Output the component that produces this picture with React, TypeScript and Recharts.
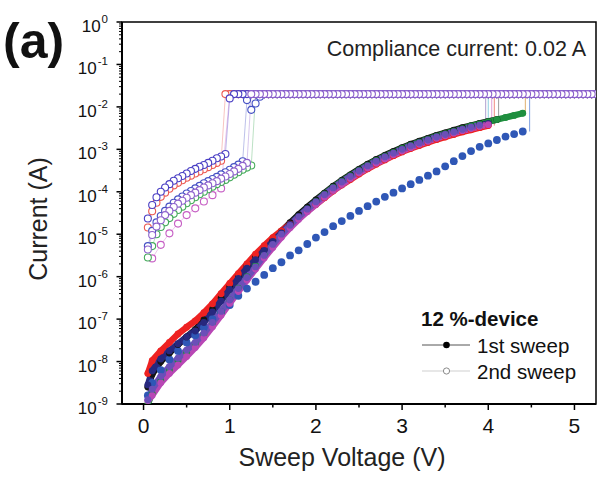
import React from 'react';
import { ComposedChart, Line, XAxis, YAxis, ReferenceArea, Legend } from 'recharts';

// ---------- data ----------
const COMPLIANCE = 0.02; // A

// 1st sweep voltage grid (V)
const sweep1V = [0.05, 0.1, 0.2, 0.3, 0.4, 0.5, 0.6, 0.7, 0.8, 0.9, 1.0, 1.1, 1.2, 1.3, 1.4, 1.5, 1.6, 1.7, 1.8, 1.9, 2.0, 2.1, 2.2, 2.3, 2.4, 2.5, 2.6, 2.7, 2.8, 2.9, 3.0, 3.1, 3.2, 3.3, 3.4, 3.5, 3.6, 3.7, 3.8, 3.9, 4.0, 4.1, 4.2, 4.3, 4.4];

// 1st sweep currents, log10(I / A)
const black1stLog = [-8.6, -8.3, -8.0, -7.8, -7.6, -7.42, -7.25, -7.02, -6.77, -6.5, -6.24, -5.98, -5.74, -5.52, -5.36, -5.14, -4.93, -4.73, -4.54, -4.36, -4.19, -4.03, -3.87, -3.73, -3.6, -3.47, -3.35, -3.24, -3.14, -3.05, -2.96, -2.88, -2.81, -2.74, -2.67, -2.61, -2.55, -2.49, -2.44, -2.39, -2.34, -2.3];
const red1stLog = [-8.28, -7.98, -7.75, -7.55, -7.35, -7.19, -7.04, -6.85, -6.64, -6.4, -6.16, -5.93, -5.7, -5.47, -5.27, -5.08, -4.92, -4.76, -4.6, -4.45, -4.3, -4.14, -3.98, -3.84, -3.71, -3.58, -3.46, -3.35, -3.25, -3.15, -3.06, -2.98, -2.91, -2.84, -2.77, -2.71, -2.65, -2.59, -2.54, -2.49, -2.44];
const green1stLog = [-9.0, -8.75, -8.45, -8.2, -7.98, -7.78, -7.58, -7.36, -7.1, -6.83, -6.55, -6.27, -6.0, -5.74, -5.48, -5.23, -5.0, -4.78, -4.58, -4.4, -4.22, -4.05, -3.89, -3.75, -3.62, -3.49, -3.37, -3.26, -3.16, -3.07, -2.98, -2.9, -2.83, -2.76, -2.69, -2.63, -2.57, -2.51, -2.45, -2.4, -2.35, -2.3, -2.25, -2.2, -2.15];
const navy1stLog = [-8.55, -8.22, -7.94, -7.75, -7.58, -7.42, -7.28, -7.08, -6.83, -6.57, -6.3, -6.04, -5.8, -5.6, -5.38, -5.17, -4.97, -4.77, -4.58, -4.4, -4.23, -4.07, -3.91, -3.77, -3.64, -3.51, -3.39, -3.28, -3.18, -3.09, -3.0, -2.92, -2.85, -2.78, -2.71, -2.65, -2.59, -2.53, -2.48, -2.43, -2.39];
const magenta1stLog = [-8.92, -8.8, -8.5, -8.28, -8.08, -7.88, -7.67, -7.44, -7.18, -6.91, -6.63, -6.35, -6.08, -5.82, -5.56, -5.31, -5.07, -4.85, -4.65, -4.47, -4.3, -4.13, -3.97, -3.83, -3.69, -3.56, -3.44, -3.33, -3.23, -3.13, -3.04, -2.96, -2.88, -2.81, -2.74, -2.68, -2.62, -2.56, -2.51, -2.46, -2.42];
const purple1stLog = [-8.9, -8.65, -8.35, -8.12, -7.92, -7.73, -7.55, -7.33, -7.08, -6.82, -6.55, -6.28, -6.02, -5.77, -5.5, -5.24, -5.0, -4.79, -4.59, -4.41, -4.24, -4.07, -3.91, -3.77, -3.64, -3.51, -3.39, -3.28, -3.18, -3.09, -3.0, -2.92, -2.85, -2.78, -2.71, -2.65, -2.59, -2.53, -2.48, -2.43];
const blue1stLog = [-8.8, -8.5, -8.2, -7.95, -7.75, -7.55, -7.38, -7.2, -7.0, -6.83, -6.67, -6.45, -6.28, -6.12, -5.96, -5.8, -5.66, -5.5, -5.38, -5.23, -5.08, -4.95, -4.81, -4.69, -4.57, -4.45, -4.34, -4.23, -4.12, -4.02, -3.92, -3.82, -3.72, -3.62, -3.52, -3.4, -3.28, -3.16, -3.04, -2.94, -2.86, -2.78, -2.7, -2.64, -2.58];

// voltage where each 1st sweep jumps to the compliance current
const setV1st = { black: 4.12, red: 4.07, green: 4.43, navy: 4.0, magenta: 4.04, purple: 3.97, blue: 4.48 };

// 2nd sweep voltage grids (V)
const sweep2V = [0.05, 0.1, 0.15, 0.2, 0.25, 0.3, 0.35, 0.4, 0.45, 0.5, 0.55, 0.6, 0.65, 0.7, 0.75, 0.8, 0.85, 0.9, 0.95, 1.0, 1.05, 1.1, 1.15, 1.2, 1.25, 1.3, 1.35, 1.4, 1.45, 1.5, 1.55, 1.6, 1.65, 1.7, 1.75, 1.8, 1.85, 1.9, 1.95, 2.0, 2.05, 2.1, 2.15, 2.2, 2.25, 2.3, 2.35, 2.4, 2.45, 2.5, 2.55, 2.6, 2.65, 2.7, 2.75, 2.8, 2.85, 2.9, 2.95, 3.0, 3.05, 3.1, 3.15, 3.2, 3.25, 3.3, 3.35, 3.4, 3.45, 3.5, 3.55, 3.6, 3.65, 3.7, 3.75, 3.8, 3.85, 3.9, 3.95, 4.0, 4.05, 4.1, 4.15, 4.2, 4.25, 4.3, 4.35, 4.4, 4.45, 4.5, 4.55, 4.6, 4.65, 4.7, 4.75, 4.8, 4.85, 4.9, 4.95, 5.0, 5.05, 5.1, 5.15, 5.2, 5.25];
const sweep2MagentaV = [0.1, 0.2, 0.3, 0.4, 0.5, 0.6, 0.7, 0.8, 0.9, 1.0, 1.1, 1.2, 1.3, 1.4, 1.5, 1.6, 1.7, 1.8, 1.9, 2.0, 2.1, 2.2, 2.3, 2.4, 2.5, 2.6, 2.7, 2.8, 2.9, 3.0, 3.1, 3.2, 3.3, 3.4, 3.5, 3.6, 3.7, 3.8, 3.9, 4.0, 4.1, 4.2, 4.3, 4.4, 4.5, 4.6, 4.7, 4.8, 4.9, 5.0, 5.1, 5.2];

// 2nd sweep currents before switching, log10(I / A)
const violetA2ndLog = [-4.63, -4.31, -4.13, -4.0, -3.9, -3.82, -3.74, -3.68, -3.63, -3.57, -3.51, -3.46, -3.41, -3.37, -3.32, -3.27, -3.21, -3.17, -3.11];
const red2ndLog = [-4.84, -4.46, -4.26, -4.12, -4.02, -3.93, -3.85, -3.79, -3.73, -3.67, -3.62, -3.57, -3.52, -3.47, -3.42, -3.37, -3.32, -3.27];
const blue2ndLog = [-5.28, -4.92, -4.72, -4.57, -4.45, -4.35, -4.26, -4.18, -4.11, -4.04, -3.98, -3.92, -3.86, -3.8, -3.75, -3.7, -3.65, -3.59, -3.54, -3.48, -3.42, -3.36, -3.28];
const violetC2ndLog = [-5.36, -5.02, -4.82, -4.67, -4.55, -4.45, -4.36, -4.28, -4.21, -4.14, -4.08, -4.02, -3.96, -3.9, -3.85, -3.8, -3.75, -3.69, -3.64, -3.58, -3.52, -3.46, -3.39, -3.32];
const green2ndLog = [-5.55, -5.28, -5.0, -4.83, -4.72, -4.62, -4.52, -4.43, -4.35, -4.27, -4.2, -4.13, -4.06, -4.0, -3.94, -3.88, -3.82, -3.77, -3.72, -3.66, -3.6, -3.54, -3.48, -3.43, -3.38];
const magenta2ndLog = [-5.57, -5.25, -4.98, -4.75, -4.55, -4.39, -4.23, -4.08, -3.92];
// first points after switching (just under the compliance level), log10(I / A)
const violetA2ndAfterLog = [-1.8];
const blue2ndAfterLog = [-1.84, -2.07, -1.92, -1.76];

// axis ticks
const xTicks = [0, 0.5, 1, 1.5, 2, 2.5, 3, 3.5, 4, 4.5, 5];
const yMajorTicks = [1e-9, 1e-8, 1e-7, 1e-6, 1e-5, 1e-4, 1e-3, 1e-2, 1e-1, 1];
const yMinorFactors = [2, 3, 4, 5, 6, 7, 8, 9];

// ---------- tables built from the arrays ----------
type Pt = { v: number; i: number };
const pts = (vs: number[], logs: number[], start = 0): Pt[] =>
  logs.map((l, k) => ({ v: vs[start + k], i: Math.pow(10, l) }));

const build2nd = (vs: number[], pre: number[], after: number[]): Pt[] => {
  const a = pts(vs, pre);
  const b = pts(vs, after, pre.length);
  const c = vs.slice(pre.length + after.length).map((v) => ({ v, i: COMPLIANCE }));
  return [...a, ...b, ...c].reverse();
};

const jump = (v: number, logs: number[]): Pt[] => [
  { v, i: Math.pow(10, logs[logs.length - 1]) },
  { v, i: COMPLIANCE },
];

const yTicks = [
  ...yMajorTicks,
  ...yMajorTicks.slice(0, 9).flatMap((m) => yMinorFactors.map((f) => f * m)),
].sort((a, b) => a - b);

const FONT = '"Liberation Sans", Arial, Helvetica, sans-serif';

const first = [
  { key: 'blue', logs: blue1stLog, color: '#2f57b6', jc: '#7fa0e0', w: 0, r: 3.9 },
  { key: 'black', logs: black1stLog, color: '#141414', jc: '#9a9a9a', w: 6.4, r: 3.4 },
  { key: 'green', logs: green1stLog, color: '#1f8f3f', jc: '#e0b070', w: 6.4, r: 3.4 },
  { key: 'red', logs: red1stLog, color: '#ee2222', jc: '#f08a80', w: 6.4, r: 3.4 },
  { key: 'navy', logs: navy1stLog, color: '#27287e', jc: '#8fd0e0', w: 6.4, r: 3.4 },
  { key: 'magenta', logs: magenta1stLog, color: '#b847b5', jc: '#e0a0d8', w: 6.4, r: 3.4 },
  { key: 'purple', logs: purple1stLog, color: '#6b4fb8', jc: '#b0a0d0', w: 6.4, r: 3.4 },
] as const;

const second = [
  { key: 'm2', data: build2nd(sweep2MagentaV, magenta2ndLog, []), color: '#c65ec4' },
  { key: 'g2', data: build2nd(sweep2V, green2ndLog, []), color: '#44aa5a' },
  { key: 'r2', data: build2nd(sweep2V, red2ndLog, []), color: '#ec5a52' },
  { key: 'b2', data: build2nd(sweep2V, blue2ndLog, blue2ndAfterLog), color: '#4550c4' },
  { key: 'a2', data: build2nd(sweep2V, violetA2ndLog, violetA2ndAfterLog), color: '#4a3fc4' },
  { key: 'c2', data: build2nd(sweep2V, violetC2ndLog, []), color: '#8e62cc' },
];

// ---------- axis pieces ----------
const XTick = (p: any) => {
  const { x, y, payload } = p;
  const v = payload.value as number;
  const major = Math.abs(v - Math.round(v)) < 1e-6;
  return (
    <g>
      <line x1={x} x2={x} y1={y} y2={y + (major ? 6 : 3.5)} stroke="#000" strokeWidth={1.5} />
      {major && (
        <text x={x} y={y + 29} textAnchor="middle" fontSize={21} fontFamily={FONT} fill="#111">
          {Math.round(v)}
        </text>
      )}
    </g>
  );
};

const YTick = (p: any) => {
  const { x, y, payload } = p;
  const v = payload.value as number;
  const lg = Math.log10(v);
  const major = Math.abs(lg - Math.round(lg)) < 1e-6;
  if (!major) return <line x1={x - 3} x2={x} y1={y} y2={y} stroke="#000" strokeWidth={1} />;
  return (
    <g>
      <line x1={x - 5.5} x2={x} y1={y} y2={y} stroke="#000" strokeWidth={1.5} />
      <text x={x - 14} y={y + 10} textAnchor="end" fontSize={17} fontFamily={FONT} fill="#111">
        <tspan>10</tspan>
        <tspan dx={1} dy={-9} fontSize={11.5}>{String(Math.round(lg))}</tspan>
      </text>
    </g>
  );
};

const XTitle = () => (
  <text x={342} y={466} textAnchor="middle" fontSize={25} fontFamily={FONT} fill="#222">
    Sweep Voltage (V)
  </text>
);

const YTitle = () => (
  <text x={47} y={219} transform="rotate(-90 47 219)" textAnchor="middle" fontSize={25} fontFamily={FONT} fill="#222">
    Current (A)
  </text>
);

const LegendBox = () => {
  const ox = 410;
  const oy = 298;
  return (
    <svg width={190} height={95} style={{ overflow: 'visible' }}>
      <g transform={`translate(${-ox},${-oy})`} fontFamily={FONT}>
        <text x={421} y={326} fontSize={20.5} fontWeight="bold" fill="#111">12 %-device</text>
        <line x1={422} x2={470} y1={345} y2={345} stroke="#555" strokeWidth={1} />
        <circle cx={446.5} cy={345} r={3.3} fill="#000" />
        <text x={477} y={353} fontSize={20.5} fill="#111">1st sweep</text>
        <line x1={422} x2={470} y1={371} y2={371} stroke="#cfcfcf" strokeWidth={1} />
        <circle cx={446.5} cy={371} r={3.1} fill="#fff" stroke="#8a8a8a" strokeWidth={1} />
        <text x={477} y={379} fontSize={20.5} fill="#111">2nd sweep</text>
      </g>
    </svg>
  );
};

export default function App() {
  return (
    <div style={{ position: 'absolute', left: 0, top: 0, width: 600, height: 477, background: '#fff' }}>
      <ComposedChart width={600} height={477} margin={{ top: 22, right: 4, bottom: 0, left: 0 }}>
        <XAxis
          type="number"
          dataKey="v"
          domain={[-0.25, 5.25]}
          allowDataOverflow
          ticks={xTicks}
          interval={0}
          tick={<XTick />}
          tickLine={false}
          tickSize={0}
          tickMargin={0}
          axisLine={{ stroke: '#000', strokeWidth: 2 }}
          height={73}
          label={<XTitle />}
        />
        <YAxis
          type="number"
          dataKey="i"
          scale="log"
          domain={[1e-9, 1]}
          allowDataOverflow
          ticks={yTicks}
          interval={0}
          tick={<YTick />}
          tickLine={false}
          tickSize={0}
          tickMargin={0}
          width={122}
          axisLine={{ stroke: '#000', strokeWidth: 2 }}
          label={<YTitle />}
        />
        <ReferenceArea x1={-0.25} x2={5.25} y1={1e-9} y2={1} fill="none" stroke="#000" strokeWidth={1.5} />
        {first.map((s) => (
          <Line
            key={`j-${s.key}`}
            data={jump(setV1st[s.key], s.logs as unknown as number[])}
            dataKey="i"
            type="linear"
            stroke={s.jc}
            strokeWidth={1}
            dot={false}
            activeDot={false}
            legendType="none"
            isAnimationActive={false}
          />
        ))}
        {first.map((s) => (
          <Line
            key={s.key}
            data={pts(sweep1V, s.logs as unknown as number[])}
            dataKey="i"
            type="linear"
            stroke={s.color}
            strokeWidth={s.w}
            strokeLinecap="round"
            strokeLinejoin="round"
            dot={{ r: s.r, fill: s.color, stroke: s.color, strokeWidth: 0 }}
            activeDot={false}
            legendType="none"
            isAnimationActive={false}
          />
        ))}
        {second.map((s) => (
          <Line
            key={s.key}
            data={s.data}
            dataKey="i"
            type="linear"
            stroke={s.color}
            strokeOpacity={0.45}
            strokeWidth={0.8}
            dot={{ r: 3.5, fill: '#fff', stroke: s.color, strokeWidth: 1.1, strokeOpacity: 1 }}
            activeDot={false}
            legendType="none"
            isAnimationActive={false}
          />
        ))}
        <Legend
          layout="vertical"
          align="center"
          verticalAlign="middle"
          wrapperStyle={{ left: 410, top: 298, right: 'auto', bottom: 'auto', width: 190, height: 95 }}
          content={() => <LegendBox />}
        />
      </ComposedChart>
      <svg
        width={600}
        height={477}
        style={{ position: 'absolute', left: 0, top: 0, pointerEvents: 'none' }}
      >
        <text x={3} y={58} fontSize={50} fontWeight="bold" fontFamily={FONT} fill="#111">(a)</text>
        <text x={586} y={56} textAnchor="end" fontSize={21.5} fontFamily={FONT} fill="#222">
          Compliance current: 0.02 A
        </text>
      </svg>
    </div>
  );
}
